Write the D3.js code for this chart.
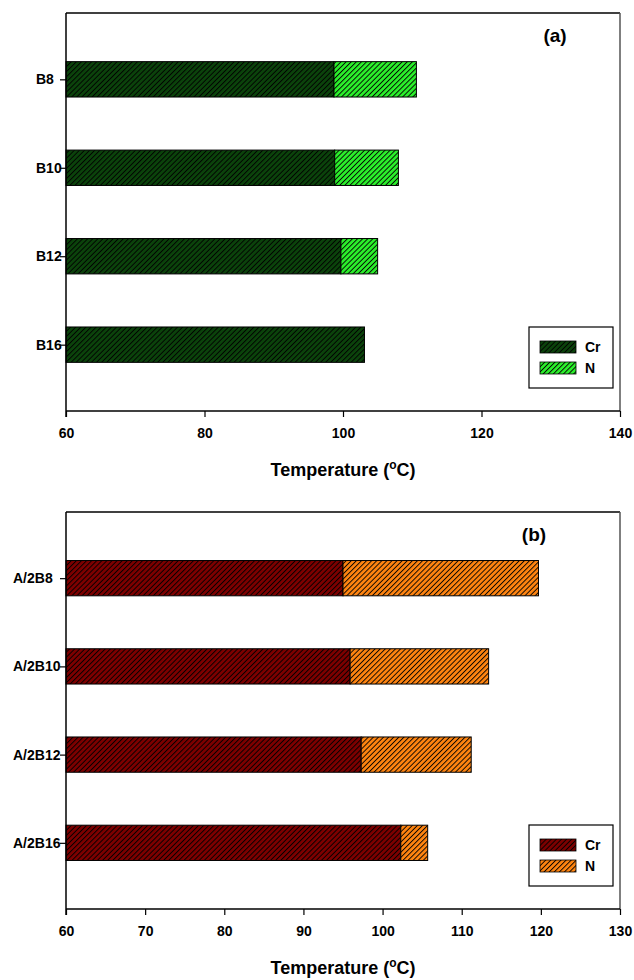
<!DOCTYPE html>
<html>
<head>
<meta charset="utf-8">
<script src="https://cdn.jsdelivr.net/npm/d3@7"></script>
<style>
  body { margin: 0; background: #fff; }
  svg { display: block; }
  text { font-family: "Liberation Sans", Arial, sans-serif; font-weight: bold; fill: #000; }
</style>
</head>
<body>
<svg id="chart" width="634" height="980"></svg>
<script>
// Panel (a): B series
const samplesA = ["B8", "B10", "B12", "B16"];
const crA = [98.7, 98.8, 99.7, 103.1];
const nA = [11.9, 9.2, 5.3, 0];
const ticksA = [60, 80, 100, 120, 140];

// Panel (b): A/2B series
const samplesB = ["A/2B8", "A/2B10", "A/2B12", "A/2B16"];
const crB = [95.0, 95.9, 97.3, 102.3];
const nB = [24.7, 17.5, 13.9, 3.4];
const ticksB = [60, 70, 80, 90, 100, 110, 120, 130];

const seriesKeys = ["Cr", "N"];

const svg = d3.select("#chart");
const defs = svg.append("defs");

// Diagonal hatch fill: coloured background with thin black "/" lines
function hatch(id, color) {
  const p = defs.append("pattern")
    .attr("id", id)
    .attr("patternUnits", "userSpaceOnUse")
    .attr("width", 3.6).attr("height", 3.6)
    .attr("patternTransform", "rotate(45)");
  p.append("rect").attr("width", 3.6).attr("height", 3.6).attr("fill", color);
  p.append("line").attr("x1", 0.5).attr("y1", 0).attr("x2", 0.5).attr("y2", 3.6)
    .attr("stroke", "#000").attr("stroke-width", 0.9);
}
hatch("crA", "#0b430b");
hatch("nA", "#2bf02b");
hatch("crB", "#7d0000");
hatch("nB", "#ff8410");

function panel(cfg) {
  const left = 66, right = 620;
  const g = svg.append("g");

  const x = d3.scaleLinear().domain(cfg.domain).range([left, right]).clamp(true);
  const y = d3.scalePoint().domain(cfg.samples).range([cfg.top, cfg.bottom]).padding(0.75);
  const barH = y.step() * 0.4;

  const rows = cfg.samples.map((s, i) => ({ sample: s, Cr: cfg.cr[i], N: cfg.n[i] }));
  const stacked = d3.stack().keys(seriesKeys)(rows);

  // stacked bars
  stacked.forEach((layer, li) => {
    g.append("g").selectAll("rect")
      .data(layer.filter(d => d[1] > d[0]))
      .join("rect")
      .attr("x", d => x(d[0]))
      .attr("width", d => x(d[1]) - x(d[0]))
      .attr("y", d => y(d.data.sample) - barH / 2)
      .attr("height", barH)
      .attr("fill", `url(#${cfg.fills[li]})`)
      .attr("stroke", "#000")
      .attr("stroke-width", 1);
  });

  // x axis
  const xa = g.append("g")
    .attr("transform", `translate(0,${cfg.bottom})`)
    .call(d3.axisBottom(x).tickValues(cfg.ticks).tickSize(6).tickPadding(11).tickFormat(d3.format("d")));
  xa.select(".domain").remove();
  xa.selectAll("line").attr("stroke", "#000").attr("stroke-width", 1.2);
  xa.selectAll("text").style("font-size", "14px").attr("font-family", null);

  // y axis with left-justified sample labels
  const ya = g.append("g")
    .attr("transform", `translate(${left},0)`)
    .call(d3.axisLeft(y).tickSize(6));
  ya.select(".domain").remove();
  ya.selectAll("line").attr("stroke", "#000").attr("stroke-width", 1.2);
  ya.selectAll("text")
    .style("font-size", "14px")
    .attr("text-anchor", "start")
    .attr("x", cfg.labelX - left);

  // frame
  g.append("line").attr("x1", left).attr("x2", right).attr("y1", cfg.top).attr("y2", cfg.top)
    .attr("stroke", "#000").attr("stroke-width", 1.5);
  g.append("line").attr("x1", right).attr("x2", right).attr("y1", cfg.top).attr("y2", cfg.bottom)
    .attr("stroke", "#555").attr("stroke-width", 1.5);
  g.append("line").attr("x1", left).attr("x2", left).attr("y1", cfg.top).attr("y2", cfg.bottom + 6)
    .attr("stroke", "#000").attr("stroke-width", 1.5);
  g.append("line").attr("x1", left).attr("x2", right).attr("y1", cfg.bottom).attr("y2", cfg.bottom)
    .attr("stroke", "#000").attr("stroke-width", 1.5);

  // panel tag
  g.append("text").attr("x", cfg.tagX).attr("y", cfg.top + 29)
    .attr("text-anchor", "middle").style("font-size", "19px").text(cfg.tag);

  // axis title
  const t = g.append("text").attr("x", (left + right) / 2).attr("y", cfg.bottom + 65)
    .attr("text-anchor", "middle").style("font-size", "18px");
  t.append("tspan").text("Temperature (");
  t.append("tspan").attr("baseline-shift", "super").style("font-size", "12px").text("o");
  t.append("tspan").text("C)");

  // legend
  const lx = 529, lw = 84, lh = 61, ly = cfg.bottom - 23 - lh;
  const lg = g.append("g");
  lg.append("rect").attr("x", lx).attr("y", ly).attr("width", lw).attr("height", lh)
    .attr("fill", "#fff").attr("stroke", "#000").attr("stroke-width", 1.2);
  seriesKeys.forEach((k, i) => {
    const sy = ly + 14 + i * 21;
    lg.append("rect").attr("x", lx + 11).attr("y", sy).attr("width", 36).attr("height", 12)
      .attr("fill", `url(#${cfg.fills[i]})`).attr("stroke", "#000").attr("stroke-width", 0.8);
    lg.append("text").attr("x", lx + 56).attr("y", sy + 11).style("font-size", "14px").text(k);
  });
}

panel({
  samples: samplesA, cr: crA, n: nA, ticks: ticksA, domain: [60, 140],
  top: 13, bottom: 411, labelX: 36, fills: ["crA", "nA"], tag: "(a)", tagX: 555
});
panel({
  samples: samplesB, cr: crB, n: nB, ticks: ticksB, domain: [60, 130],
  top: 512, bottom: 909, labelX: 13, fills: ["crB", "nB"], tag: "(b)", tagX: 534
});
</script>
</body>
</html>
